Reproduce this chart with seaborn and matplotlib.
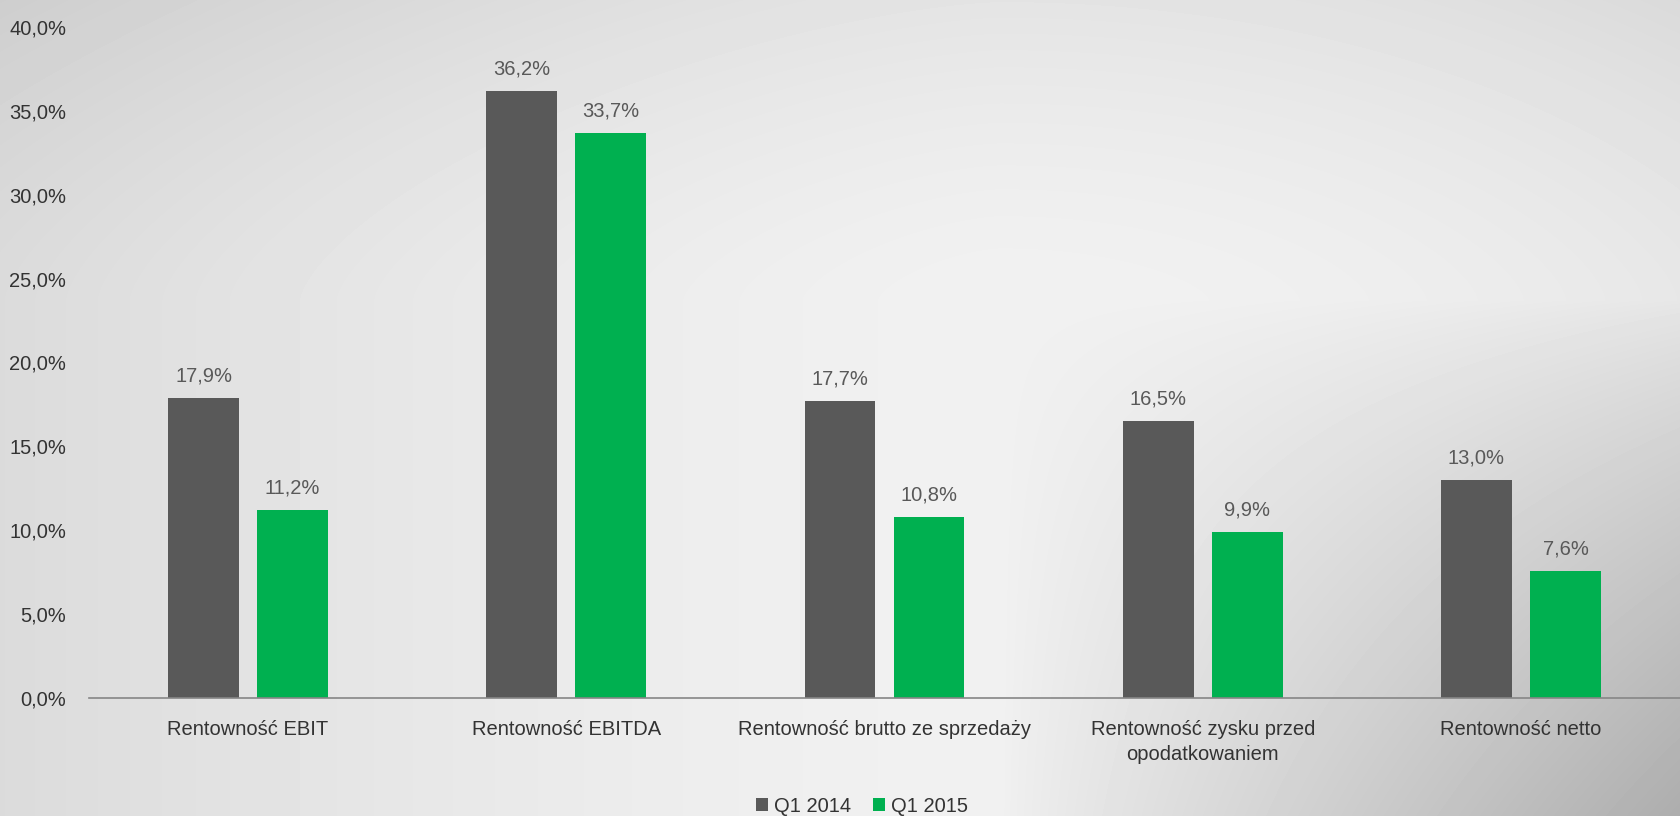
import numpy as np
import pandas as pd
import matplotlib
matplotlib.use("Agg")
import matplotlib.pyplot as plt
from matplotlib.ticker import FuncFormatter
import seaborn as sns

# --- data -------------------------------------------------------------
categories = [
    "Rentowność EBIT",
    "Rentowność EBITDA",
    "Rentowność brutto ze sprzedaży",
    "Rentowność zysku przed\nopodatkowaniem",
    "Rentowność netto",
]
periods = ["Q1 2014", "Q1 2015"]
q1_2014 = [17.9, 36.2, 17.7, 16.5, 13.0]
q1_2015 = [11.2, 33.7, 10.8, 9.9, 7.6]
y_ticks = [0, 5, 10, 15, 20, 25, 30, 35, 40]

colors = {"Q1 2014": "#595959", "Q1 2015": "#00B050"}

df = pd.DataFrame({
    "Wskaźnik": categories * 2,
    "Okres": [periods[0]] * len(categories) + [periods[1]] * len(categories),
    "Wartość": q1_2014 + q1_2015,
})

# --- style ------------------------------------------------------------
sns.set_theme(style="white")
plt.rcParams["font.family"] = ["Liberation Sans Narrow", "Liberation Sans", "DejaVu Sans"]
FS = 14.5
plt.rcParams["font.size"] = FS

W, H = 1680, 816
fig = plt.figure(figsize=(W / 100, H / 100), dpi=100)

# soft grey backdrop: light centre, darker left edge and lower-right corner
bg = fig.add_axes([0, 0, 1, 1], zorder=-10)
xx, yy = np.meshgrid(np.arange(W), np.arange(H))
cx, cy = 1000.0, 300.0
left = np.clip((cx - xx) / cx, 0, 1) ** 1.5
top = np.clip((cy - yy) / cy, 0, 1) ** 1.5
br = (np.clip((xx - cx) / (W - cx), 0, 1) * np.clip((yy - cy) / (H - cy), 0, 1)) ** 0.8
right = np.clip((xx - cx) / (W - cx), 0, 1) ** 2
shade = 241 - 22 * left - 13 * top - 58 * br - 10 * right
bg.imshow(np.clip(shade, 0, 255) / 255.0, cmap="gray", vmin=0, vmax=1,
          extent=[0, W, H, 0], aspect="auto", interpolation="bilinear")
bg.axis("off")

# --- chart ------------------------------------------------------------
ax = fig.add_axes([89 / W, 118 / H, 1 - 89 / W, 671 / H])
ax.set_facecolor("none")

sns.barplot(data=df, x="Wskaźnik", y="Wartość", hue="Okres",
            palette=colors, width=0.56, gap=0.205, ax=ax,
            linewidth=0, saturation=1, errorbar=None)

for container, vals in zip(ax.containers, [q1_2014, q1_2015]):
    labels = [f"{v:.1f}%".replace(".", ",") for v in vals]
    ax.bar_label(container, labels=labels, padding=9,
                 color="#595959", fontsize=FS)

ax.set_xlim(-0.5, len(categories) - 0.5)
ax.set_ylim(0, 40)
ax.set_yticks(y_ticks)
ax.yaxis.set_major_formatter(FuncFormatter(lambda v, _: f"{v:.1f}%".replace(".", ",")))
ax.set_xlabel("")
ax.set_ylabel("")
ax.tick_params(axis="y", length=0, pad=16.5, labelcolor="#333333", labelsize=FS)
ax.tick_params(axis="x", length=0, pad=16, labelcolor="#333333", labelsize=FS)
for lbl in ax.get_xticklabels():
    lbl.set_linespacing(1.4)

for side in ["top", "right", "left"]:
    ax.spines[side].set_visible(False)
ax.spines["bottom"].set_color("#868686")
ax.spines["bottom"].set_linewidth(1.2)
ax.grid(False)

sns.move_legend(ax, "center", bbox_to_anchor=(0.513, 0.012),
                bbox_transform=fig.transFigure, ncol=2, title=None,
                frameon=False, handlelength=0.6, handleheight=0.6,
                handletextpad=0.3, columnspacing=1.1, borderpad=0,
                fontsize=FS, labelcolor="#333333")

fig.savefig("out.png", dpi=100)
